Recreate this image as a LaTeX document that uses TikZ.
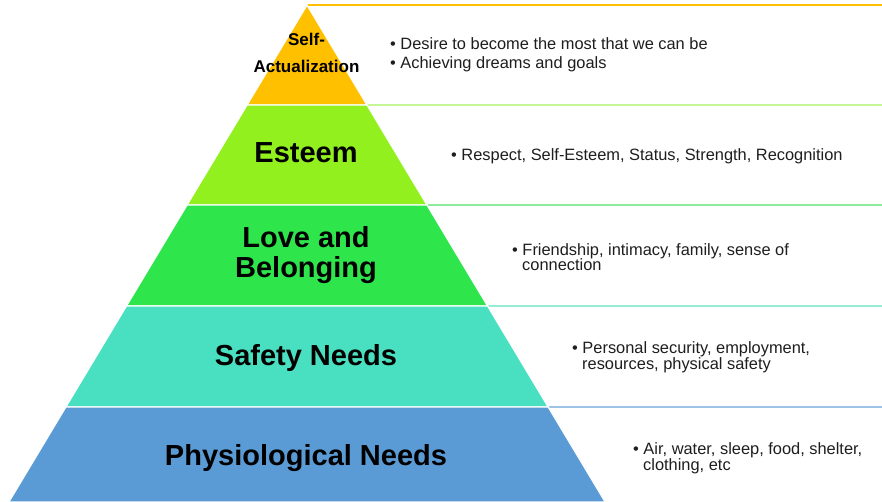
\documentclass[tikz,border=0pt]{standalone}
\usepackage{fontspec}
\setmainfont{Liberation Sans}
\definecolor{selfc}{RGB}{255,192,0}
\definecolor{esteemc}{RGB}{146,240,30}
\definecolor{lovec}{RGB}{46,230,76}
\definecolor{safetyc}{RGB}{72,224,192}
\definecolor{physc}{RGB}{91,155,213}
\definecolor{esteemline}{RGB}{196,245,150}
\definecolor{loveline}{RGB}{140,234,156}
\definecolor{safetyline}{RGB}{150,236,214}
\definecolor{physline}{RGB}{157,195,230}
\definecolor{textgray}{RGB}{30,30,30}
\begin{document}
\begin{tikzpicture}[x=1pt,y=-1pt,
  tier/.style={draw=white, line width=1.3pt, line join=miter},
  rule/.style={line width=2pt},
  tierlabel/.style={font=\bfseries\fontsize{29}{33}\selectfont, text=black, inner sep=0, anchor=base},
  smalllabel/.style={font=\bfseries\fontsize{17}{20}\selectfont, text=black, inner sep=0, anchor=base},
  item/.style={font=\fontsize{16.4}{19}\selectfont, text=textgray, inner sep=0, anchor=base west}]
\useasboundingbox (0,0) rectangle (882,502);
\fill[white] (0,0) rectangle (882,502);

% corners of the pyramid tiers
\coordinate (apex) at (307,5);
\coordinate (l1) at (247,105);   \coordinate (r1) at (367,105);
\coordinate (l2) at (187,205);   \coordinate (r2) at (427,205);
\coordinate (l3) at (126.4,306); \coordinate (r3) at (487.6,306);
\coordinate (l4) at (65.8,407);  \coordinate (r4) at (548.2,407);
\coordinate (l5) at (8.8,502);   \coordinate (r5) at (605.2,502);

% right ends of the separating rules
\coordinate (e0) at (882,5);
\coordinate (e1) at (882,105);
\coordinate (e2) at (882,205);
\coordinate (e3) at (882,306);
\coordinate (e4) at (882,407);

% rules extending each tier to the right
\draw[rule, selfc] (apex) -- (e0);
\draw[rule, esteemline] (r1) -- (e1);
\draw[rule, loveline] (r2) -- (e2);
\draw[rule, safetyline] (r3) -- (e3);
\draw[rule, physline] (r4) -- (e4);

% pyramid tiers
\filldraw[tier, fill=selfc] (apex) -- (r1) -- (l1) -- cycle;
\filldraw[tier, fill=esteemc] (l1) -- (r1) -- (r2) -- (l2) -- cycle;
\filldraw[tier, fill=lovec] (l2) -- (r2) -- (r3) -- (l3) -- cycle;
\filldraw[tier, fill=safetyc] (l3) -- (r3) -- (r4) -- (l4) -- cycle;
\filldraw[tier, fill=physc] (l4) -- (r4) -- (r5) -- (l5) -- cycle;

% tier labels
\node[smalllabel] (self1) at (306.5,46) {Self-};
\node[smalllabel] (self2) at (306.5,73) {Actualization};
\node[tierlabel] (esteem) at (306,163) {Esteem};
\node[tierlabel] (love1) at (306,248) {Love and};
\node[tierlabel] (love2) at (306,277) {Belonging};
\node[tierlabel] (safety) at (306,365) {Safety Needs};
\node[tierlabel] (phys) at (306,465) {Physiological Needs};

% descriptions
\node[item] (selfa) at (390,49.5) {\textbullet\ Desire to become the most that we can be};
\node[item] (selfb) at (390,68.5) {\textbullet\ Achieving dreams and goals};
\node[item] (esteema) at (451,161) {\textbullet\ Respect, Self-Esteem, Status, Strength, Recognition};
\node[item] (lovea) at (512,255) {\textbullet\ Friendship, intimacy, family, sense of};
\node[item] (loveb) at (522,271) {connection};
\node[item] (safetya) at (572,353) {\textbullet\ Personal security, employment,};
\node[item] (safetyb) at (582,369) {resources, physical safety};
\node[item] (physa) at (633,454) {\textbullet\ Air, water, sleep, food, shelter,};
\node[item] (physb) at (643,470) {clothing, etc};
\end{tikzpicture}
\end{document}
